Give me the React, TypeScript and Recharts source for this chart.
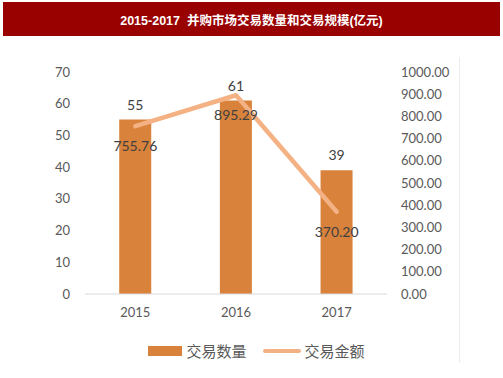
import { ComposedChart, Bar, Line, XAxis, YAxis, Legend, LabelList } from "recharts";

const years = ["2015", "2016", "2017"];
const dealCounts = [55, 61, 39];
const dealValues = [755.76, 895.29, 370.2];
const countTicks = [0, 10, 20, 30, 40, 50, 60, 70];
const valueTicks = [0, 100, 200, 300, 400, 500, 600, 700, 800, 900, 1000];

const BAR_COLOR = "#D9823B";
const LINE_COLOR = "#F4B183";
const FONT = "Lato, 'Noto Sans CJK SC', sans-serif";

const data = years.map((y, i) => ({ year: y, count: dealCounts[i], value: dealValues[i] }));

// Excel-style legend: bar swatch + line swatch
function LegendContent() {
  return (
    <div
      style={{
        display: "flex",
        justifyContent: "center",
        alignItems: "center",
        fontFamily: FONT,
        fontSize: 15,
        color: "#595959",
        paddingLeft: 10,
      }}
    >
      <span style={{ display: "inline-block", width: 34, height: 10, background: BAR_COLOR, marginRight: 4 }} />
      <span style={{ marginRight: 16 }}>交易数量</span>
      <span
        style={{ display: "inline-block", width: 38, height: 4, borderRadius: 2, background: LINE_COLOR, marginRight: 4 }}
      />
      <span>交易金额</span>
    </div>
  );
}

export default function App() {
  const tickStyle = { fill: "#595959", fontSize: 13, fontFamily: FONT };

  return (
    <div style={{ position: "absolute", left: 0, top: 0, width: 503, height: 378, background: "#fff" }}>
      {/* title bar */}
      <div
        style={{
          position: "absolute",
          left: 3,
          top: 2,
          width: 497,
          height: 34,
          background: "#990000",
          color: "#fff",
          fontWeight: "bold",
          fontSize: 12.5,
          fontFamily: "'Liberation Sans', 'Noto Sans CJK SC', sans-serif",
          display: "flex",
          alignItems: "center",
          justifyContent: "center",
          whiteSpace: "pre",
        }}
      >
        {"2015-2017  并购市场交易数量和交易规模(亿元)"}
      </div>

      {/* faint frame line on the right */}
      <div style={{ position: "absolute", left: 459, top: 57, width: 1, height: 306, background: "#ececec" }} />

      <div style={{ position: "absolute", left: 0, top: 0 }}>
        <ComposedChart
          width={503}
          height={378}
          data={data}
          margin={{ top: 72, right: 46, bottom: 54, left: 0 }}
          barCategoryGap="34%"
        >
          <XAxis
            dataKey="year"
            tick={tickStyle}
            tickLine={false}
            tickSize={0}
            tickMargin={14}
            axisLine={{ stroke: "#D9D9D9" }}
            height={30}
          />
          <YAxis
            yAxisId="left"
            domain={[0, 70]}
            ticks={countTicks}
            tick={tickStyle}
            tickLine={false}
            axisLine={false}
            tickSize={0}
            tickMargin={15}
            width={85}
          />
          <YAxis
            yAxisId="right"
            orientation="right"
            domain={[0, 1000]}
            ticks={valueTicks}
            tick={{ ...tickStyle, textAnchor: "start" }}
            tickFormatter={(v: number) => v.toFixed(2)}
            tickLine={false}
            axisLine={false}
            tickSize={0}
            tickMargin={14}
            width={70}
          />
          <Legend
            layout="horizontal"
            verticalAlign="middle"
            align="center"
            content={<LegendContent />}
            wrapperStyle={{ top: 340, left: 0, width: 503 }}
          />
          <Bar yAxisId="left" dataKey="count" name="交易数量" fill={BAR_COLOR} isAnimationActive={false}>
            <LabelList dataKey="count" position="top" offset={10} fill="#404040" fontSize={14} fontFamily={FONT} />
          </Bar>
          <Line
            yAxisId="right"
            dataKey="value"
            name="交易金额"
            type="linear"
            stroke={LINE_COLOR}
            strokeWidth={4.5}
            strokeLinecap="round"
            strokeLinejoin="round"
            dot={false}
            activeDot={false}
            isAnimationActive={false}
          >
            <LabelList
              dataKey="value"
              position="bottom"
              offset={15}
              fill="#404040"
              fontSize={14}
              fontFamily={FONT}
              formatter={(v: number) => v.toFixed(2)}
            />
          </Line>
        </ComposedChart>
      </div>
    </div>
  );
}
